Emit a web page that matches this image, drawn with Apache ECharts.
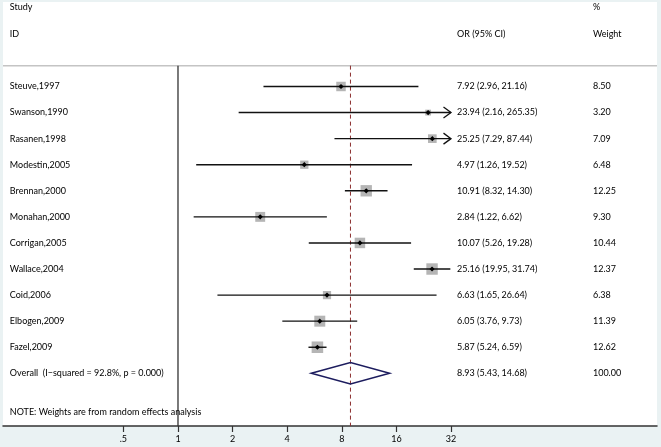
<!DOCTYPE html>
<html>
<head>
<meta charset="utf-8">
<script src="https://cdn.jsdelivr.net/npm/echarts@6/dist/echarts.min.js"></script>
<style>
html, body { margin: 0; padding: 0; background: #eaf2f3; }
#forest { width: 661px; height: 447px; }
</style>
</head>
<body>
<div id="forest"></div>
<script>
/*== data ==*/
var studies   = ['Steuve,1997', 'Swanson,1990', 'Rasanen,1998', 'Modestin,2005', 'Brennan,2000', 'Monahan,2000',
                 'Corrigan,2005', 'Wallace,2004', 'Coid,2006', 'Elbogen,2009', 'Fazel,2009'];
var oddsRatio = [7.92, 23.94, 25.25, 4.97, 10.91, 2.84, 10.07, 25.16, 6.63, 6.05, 5.87];
var ciLow     = [2.96, 2.16, 7.29, 1.26, 8.32, 1.22, 5.26, 19.95, 1.65, 3.76, 5.24];
var ciHigh    = [21.16, 265.35, 87.44, 19.52, 14.30, 6.62, 19.28, 31.74, 26.64, 9.73, 6.59];
var weights   = [8.50, 3.20, 7.09, 6.48, 12.25, 9.30, 10.44, 12.37, 6.38, 11.39, 12.62];

var overallLabel  = 'Overall  (I\u2212squared = 92.8%, p = 0.000)';
var overallEst    = [8.93, 5.43, 14.68];   // OR, low, high
var overallWeight = 100.00;

var tickValues = [0.5, 1, 2, 4, 8, 16, 32];
var tickLabels = ['.5', '1', '2', '4', '8', '16', '32'];

var noteText = 'NOTE: Weights are from random effects analysis';

/*== layout (axis units: x = log2(OR), y = row index) ==*/
var X_MIN = -3.205, X_MAX = 8.773;
var Y_MIN = -3.24, Y_MAX = 13.02;
var X_CLIP = 32;
var COL_STUDY = -3.08, COL_OR = 5.11, COL_WEIGHT = 7.60;
var ROW_TOP = -3.05, ROW_HEAD = -2.01, ROW_SEP = -0.80, ROW_NOTE = 12.49;
var OVERALL_ROW = studies.length;
var BOX_SCALE = 3.25;
var FONT = '9px Lato';

function lg(v) { return Math.log(v) / Math.LN2; }
function fmt(v) { return v.toFixed(2); }

function txt(pt, str) {
    return {
        type: 'text',
        style: { text: str, x: pt[0], y: pt[1], fill: '#000', font: FONT, align: 'left', verticalAlign: 'middle' }
    };
}

/*== 每个研究：方块 + 置信区间 ==*/
function renderStudy(params, api) {
    var i = params.dataIndex;
    var y = api.coord([0, i])[1];
    var xLo = api.coord([lg(ciLow[i]), i])[0];
    var xHi = api.coord([lg(Math.min(ciHigh[i], X_CLIP)), i])[0];
    var xEst = api.coord([lg(oddsRatio[i]), i])[0];
    var side = BOX_SCALE * Math.sqrt(weights[i]);
    var children = [
        { type: 'rect', shape: { x: xEst - side / 2, y: y - side / 2, width: side, height: side },
          style: { fill: '#b5b5b5' } },
        { type: 'line', shape: { x1: xLo, y1: y, x2: xHi, y2: y },
          style: { stroke: '#111', lineWidth: 1.4 } },
        { type: 'polygon', shape: { points: [[xEst - 2.6, y], [xEst, y - 2.6], [xEst + 2.6, y], [xEst, y + 2.6]] },
          style: { fill: '#000' } }
    ];
    if (ciHigh[i] > X_CLIP) {
        children.push({ type: 'polyline', shape: { points: [[xHi - 7.5, y - 5.5], [xHi, y], [xHi - 7.5, y + 5.5]] },
            style: { stroke: '#111', fill: null, lineWidth: 1.3 } });
    }
    children.push(txt(api.coord([COL_STUDY, i]), studies[i]));
    children.push(txt(api.coord([COL_OR, i]),
        fmt(oddsRatio[i]) + ' (' + fmt(ciLow[i]) + ', ' + fmt(ciHigh[i]) + ')'));
    children.push(txt(api.coord([COL_WEIGHT, i]), fmt(weights[i])));
    return { type: 'group', children: children };
}

/*== 参考线、合并菱形、表头 ==*/
function renderFrame(params, api) {
    var r = OVERALL_ROW;
    var sepL = api.coord([X_MIN, ROW_SEP]), sepR = api.coord([X_MAX, ROW_SEP]);
    var nullTop = api.coord([0, ROW_SEP]), nullBot = api.coord([0, Y_MAX]);
    var dTop = api.coord([lg(overallEst[0]), ROW_SEP]), dBot = api.coord([lg(overallEst[0]), Y_MAX]);
    var pL = api.coord([lg(overallEst[1]), r]);
    var pR = api.coord([lg(overallEst[2]), r]);
    var pT = api.coord([lg(overallEst[0]), r - 0.41]);
    var pB = api.coord([lg(overallEst[0]), r + 0.41]);
    return {
        type: 'group',
        children: [
            { type: 'line', shape: { x1: sepL[0], y1: sepL[1], x2: sepR[0], y2: sepR[1] },
              style: { stroke: '#c4c4c4', lineWidth: 1.5 } },
            { type: 'line', shape: { x1: nullTop[0], y1: nullTop[1], x2: nullBot[0], y2: nullBot[1] },
              style: { stroke: '#333', lineWidth: 1.3 } },
            { type: 'line', shape: { x1: dTop[0], y1: dTop[1], x2: dBot[0], y2: dBot[1] },
              style: { stroke: '#8c2f2f', lineWidth: 1, lineDash: [4, 3] } },
            { type: 'polygon', shape: { points: [pL, pT, pR, pB] },
              style: { stroke: '#1c1c5e', fill: null, lineWidth: 1.5 } },
            txt(api.coord([COL_STUDY, ROW_TOP]), 'Study'),
            txt(api.coord([COL_STUDY, ROW_HEAD]), 'ID'),
            txt(api.coord([COL_OR, ROW_HEAD]), 'OR (95% CI)'),
            txt(api.coord([COL_WEIGHT, ROW_TOP]), '%'),
            txt(api.coord([COL_WEIGHT, ROW_HEAD]), 'Weight'),
            txt(api.coord([COL_STUDY, r]), overallLabel),
            txt(api.coord([COL_OR, r]), fmt(overallEst[0]) + ' (' + fmt(overallEst[1]) + ', ' + fmt(overallEst[2]) + ')'),
            txt(api.coord([COL_WEIGHT, r]), fmt(overallWeight)),
            txt(api.coord([COL_STUDY, ROW_NOTE]), noteText)
        ]
    };
}

var tickLog = tickValues.map(lg);

var option = {
    backgroundColor: '#eaf2f3',
    animation: false,
    grid: { left: 3, right: 4, top: 2, bottom: 21, show: true, backgroundColor: '#fff', borderWidth: 0 },
    xAxis: {
        type: 'value',
        min: X_MIN,
        max: X_MAX,
        axisLine: { show: true, onZero: false, lineStyle: { color: '#333', width: 1.5 } },
        axisTick: { show: true, customValues: tickLog, length: 6, lineStyle: { color: '#333', width: 1.2 } },
        axisLabel: {
            customValues: tickLog,
            margin: 9,
            color: '#000',
            fontSize: 9,
            fontFamily: 'Lato',
            formatter: function (v) {
                for (var k = 0; k < tickLog.length; k++) {
                    if (Math.abs(tickLog[k] - v) < 1e-6) return tickLabels[k];
                }
                return '';
            }
        },
        splitLine: { show: false }
    },
    yAxis: { type: 'value', inverse: true, min: Y_MIN, max: Y_MAX, show: false },
    series: [
        { type: 'custom', name: 'frame', renderItem: renderFrame, data: [[0, 0]], silent: true },
        { type: 'custom', name: 'studies', renderItem: renderStudy,
          data: studies.map(function (s, i) { return [lg(oddsRatio[i]), i]; }), silent: true }
    ]
};

var myChart = echarts.init(document.getElementById('forest'));
myChart.setOption(option);
</script>
</body>
</html>
